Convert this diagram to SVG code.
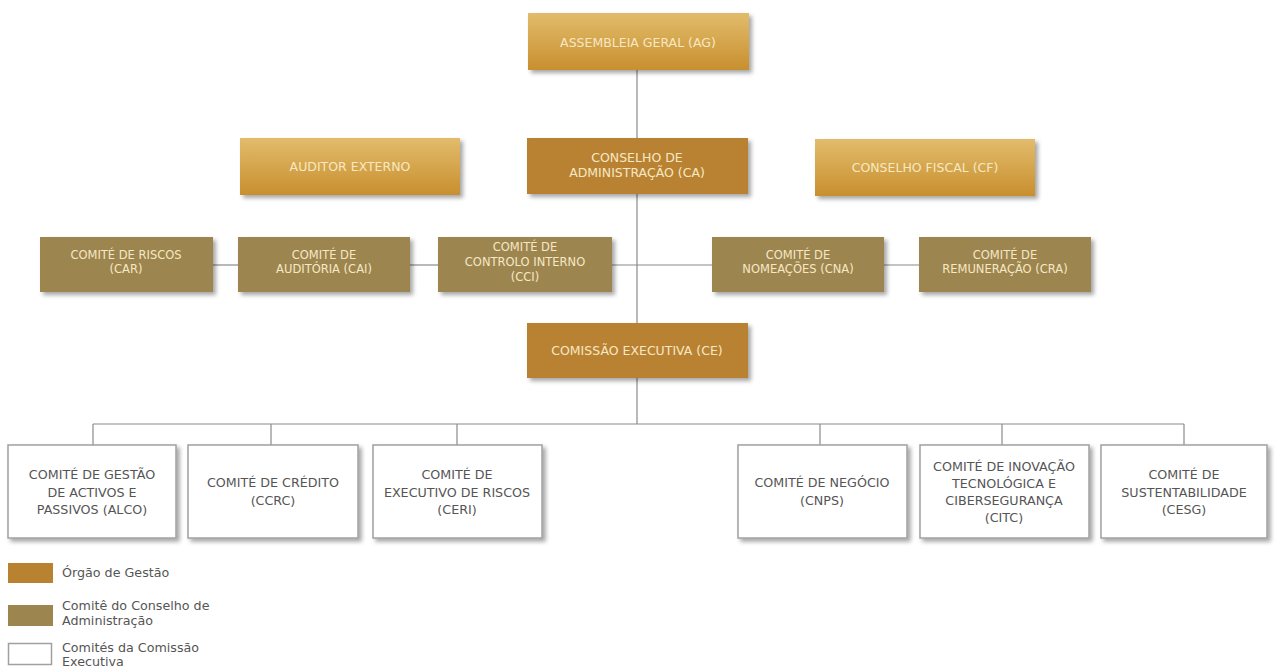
<svg xmlns="http://www.w3.org/2000/svg" width="1279" height="670" viewBox="0 0 1279 670">
<defs>
<linearGradient id="gold" x1="0" y1="0" x2="0" y2="1">
<stop offset="0" stop-color="#e2bc6c"/>
<stop offset="1" stop-color="#c88f2e"/>
</linearGradient>
<filter id="sh" x="-10%" y="-10%" width="125%" height="135%">
<feDropShadow dx="3" dy="3" stdDeviation="2" flood-color="#000" flood-opacity="0.35"/>
</filter>
<style>
.g{fill:url(#gold);filter:url(#sh)}
.o{fill:#b98230;filter:url(#sh)}
.c{fill:#9d8550;filter:url(#sh)}
.w{fill:#fff;stroke:#a0a0a0;stroke-width:1.5;filter:url(#sh)}
.t{font-family:"DejaVu Sans",sans-serif;font-size:12.5px;text-anchor:middle;fill:#f6e8c4}
.s{font-family:"DejaVu Sans",sans-serif;font-size:11.5px;text-anchor:middle;fill:#f6e8c4}
.d{font-family:"DejaVu Sans",sans-serif;font-size:12.7px;text-anchor:middle;fill:#555}
.l{font-family:"DejaVu Sans",sans-serif;font-size:12.7px;fill:#555}
.k{stroke:#8a8a8a;stroke-width:1.2;fill:none}
</style>
</defs>
<rect width="1279" height="670" fill="#fff"/>
<g id="connectors">
<line class="k" x1="637" y1="70" x2="637" y2="424"/>
<line class="k" x1="213" y1="265" x2="238" y2="265"/>
<line class="k" x1="410" y1="265" x2="438" y2="265"/>
<line class="k" x1="612" y1="265" x2="712" y2="265"/>
<line class="k" x1="884" y1="265" x2="919" y2="265"/>
<line class="k" x1="93" y1="424" x2="1184" y2="424"/>
<line class="k" x1="93" y1="424" x2="93" y2="445"/>
<line class="k" x1="271" y1="424" x2="271" y2="445"/>
<line class="k" x1="457" y1="424" x2="457" y2="445"/>
<line class="k" x1="820" y1="424" x2="820" y2="445"/>
<line class="k" x1="1002" y1="424" x2="1002" y2="445"/>
<line class="k" x1="1184" y1="424" x2="1184" y2="445"/>
</g>
<g id="ag"><rect class="g" x="528" y="13" width="221" height="57"/><text class="t" x="638" y="47">ASSEMBLEIA GERAL (AG)</text></g>
<g id="auditor"><rect class="g" x="240" y="138" width="220" height="57"/><text class="t" x="350" y="171">AUDITOR EXTERNO</text></g>
<g id="ca"><rect class="o" x="527" y="138" width="221" height="56"/><text class="t" x="637" y="162">CONSELHO DE</text><text class="t" x="637" y="177">ADMINISTRAÇÃO (CA)</text></g>
<g id="cf"><rect class="g" x="815" y="139" width="220" height="57"/><text class="t" x="925" y="172">CONSELHO FISCAL (CF)</text></g>
<g id="car"><rect class="c" x="40" y="237" width="173" height="55"/><text class="s" x="126" y="259">COMITÉ DE RISCOS</text><text class="s" x="126" y="273">(CAR)</text></g>
<g id="cai"><rect class="c" x="238" y="237" width="172" height="55"/><text class="s" x="324" y="259">COMITÉ DE</text><text class="s" x="324" y="273">AUDITÓRIA (CAI)</text></g>
<g id="cci"><rect class="c" x="438" y="237" width="174" height="55"/><text class="s" x="525" y="251">COMITÉ DE</text><text class="s" x="525" y="266">CONTROLO INTERNO</text><text class="s" x="525" y="281">(CCI)</text></g>
<g id="cna"><rect class="c" x="712" y="237" width="172" height="55"/><text class="s" x="798" y="259">COMITÉ DE</text><text class="s" x="798" y="273">NOMEAÇÕES (CNA)</text></g>
<g id="cra"><rect class="c" x="919" y="237" width="172" height="55"/><text class="s" x="1005" y="259">COMITÉ DE</text><text class="s" x="1005" y="273">REMUNERAÇÃO (CRA)</text></g>
<g id="ce"><rect class="o" x="527" y="323" width="221" height="55"/><text class="t" x="637" y="355">COMISSÃO EXECUTIVA (CE)</text></g>
<g id="alco"><rect class="w" x="8" y="445" width="168" height="93"/><text class="d" x="92" y="479">COMITÉ DE GESTÃO</text><text class="d" x="92" y="496.5">DE ACTIVOS E</text><text class="d" x="92" y="514">PASSIVOS (ALCO)</text></g>
<g id="ccrc"><rect class="w" x="188" y="445" width="170" height="93"/><text class="d" x="273" y="487">COMITÉ DE CRÉDITO</text><text class="d" x="273" y="504.5">(CCRC)</text></g>
<g id="ceri"><rect class="w" x="373" y="445" width="169" height="93"/><text class="d" x="457" y="479">COMITÉ DE</text><text class="d" x="457" y="496.5">EXECUTIVO DE RISCOS</text><text class="d" x="457" y="514">(CERI)</text></g>
<g id="cnps"><rect class="w" x="738" y="445" width="169" height="93"/><text class="d" x="822" y="487">COMITÉ DE NEGÓCIO</text><text class="d" x="822" y="504.5">(CNPS)</text></g>
<g id="citc"><rect class="w" x="920" y="445" width="169" height="93"/><text class="d" x="1004" y="471">COMITÉ DE INOVAÇÃO</text><text class="d" x="1004" y="488">TECNOLÓGICA E</text><text class="d" x="1004" y="505">CIBERSEGURANÇA</text><text class="d" x="1004" y="522">(CITC)</text></g>
<g id="cesg"><rect class="w" x="1101" y="445" width="166" height="93"/><text class="d" x="1184" y="479">COMITÉ DE</text><text class="d" x="1184" y="496.5">SUSTENTABILIDADE</text><text class="d" x="1184" y="514">(CESG)</text></g>
<g id="legend">
<rect x="8" y="563" width="45" height="20" fill="#b98230"/>
<text class="l" x="62" y="577">Órgão de Gestão</text>
<rect x="8" y="605" width="45" height="21" fill="#9d8550"/>
<text class="l" x="62" y="610">Comitê do Conselho de</text>
<text class="l" x="62" y="625">Administração</text>
<rect x="8.5" y="643.5" width="43" height="21" fill="#fff" stroke="#a0a0a0" stroke-width="1.5"/>
<text class="l" x="62" y="652">Comités da Comissão</text>
<text class="l" x="62" y="666">Executiva</text>
</g>
</svg>
